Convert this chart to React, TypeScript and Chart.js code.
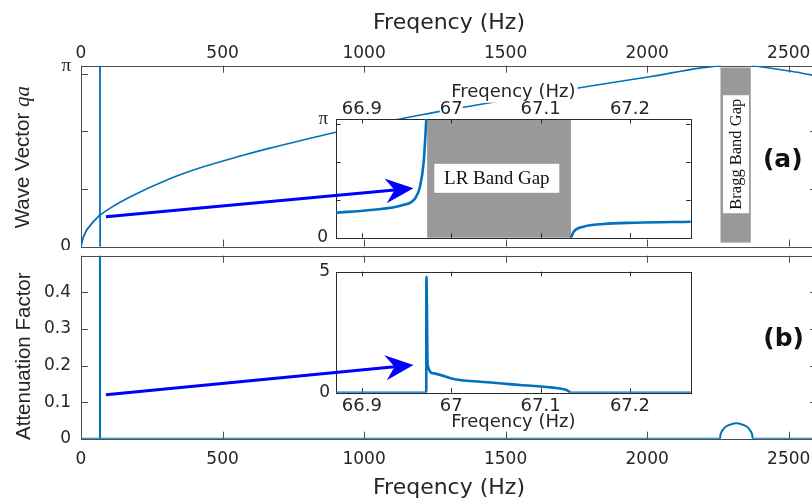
import React, { useEffect, useRef } from 'react';
import { Chart, registerables } from 'chart.js';

Chart.register(...registerables);

const PI = Math.PI;

// ---- Panel (a): wave vector qa (rad) vs frequency (Hz)
const qaFreqLow = [0, 8, 20, 43, 66.9, 66.97];
const qaLow = [0, 0.16, 0.29, 0.43, 0.55, PI];
const qaFreqRise = [67.13, 67.2, 67.27, 68];
const qaRise = [0, 0.3, 0.42, 0.55];
const qaFreqMid = [68, 102, 161, 220, 279, 338, 432, 550, 667, 785, 885, 1204, 1363, 1515, 1762, 2009, 2186, 2259];
const qaMid = [0.55, 0.665, 0.83, 0.975, 1.105, 1.225, 1.385, 1.555, 1.71, 1.85, 1.97, 2.29, 2.43, 2.56, 2.76, 2.95, 3.1, PI];
const qaFreqHigh = [2372, 2420, 2479, 2540, 2600];
const qaHigh = [PI, 3.11, 3.067, 3.02, 2.96];

// ---- Panel (b): attenuation factor vs frequency (Hz)
const attFreq = [0, 66.97, 66.972, 66.974, 66.98, 67.0, 67.05, 67.1, 67.13, 67.134, 2257, 2259, 2263, 2270, 2280, 2295, 2315, 2335, 2350, 2360, 2367, 2371, 2373, 2600];
const att = [0, 0, 4.79, 1.14, 0.8, 0.6, 0.4, 0.25, 0.12, 0, 0, 0.011, 0.019, 0.027, 0.034, 0.039, 0.042, 0.039, 0.034, 0.027, 0.019, 0.011, 0, 0];

// ---- Inset (a): zoom on the local-resonance gap
const lrFreqLow = [66.871, 66.909, 66.946, 66.9595, 66.965, 66.969, 66.971, 66.972];
const lrQaLow = [0.662, 0.733, 0.865, 1.04, 1.35, 1.97, 2.67, PI];
const lrFreqHigh = [67.134, 67.137, 67.148, 67.17, 67.207, 67.268];
const lrQaHigh = [0, 0.159, 0.291, 0.363, 0.397, 0.423];

// ---- Inset (b)
const lrAttFreq = [66.871, 66.972, 66.9722, 66.9736, 66.98, 67.0025, 67.04, 67.077, 67.114, 67.129, 67.134, 67.268];
const lrAtt = [0, 0, 4.79, 1.14, 0.8, 0.57, 0.43, 0.32, 0.21, 0.11, 0, 0];

// ---- ticks / ranges / annotations
const freqTicks = [0, 500, 1000, 1500, 2000, 2500];
const qaTicks = [0, 1, 2, 3, PI];
const attTicks = [0, 0.1, 0.2, 0.3, 0.4];
const insetFreqTicks = [66.9, 67, 67.1, 67.2];
const insetAttTicks = [0, 5];
const braggGap = [2259, 2366];
const braggGapQa = [0.07, 3.11];
const lrGap = [66.973, 67.134];
const braggLabelAt = [2314, 1.604];
const lrLabelAt = [67.051, 1.572];
const panelALabelAt = [2479, 1.487];
const panelBLabelAt = [2482, 0.27];
const arrowTailA = [88, 0.52];
const arrowHeadA = [66.9577, 1.307];
const arrowTailB = [88, 0.12];
const arrowHeadB = [66.9577, 1.145];

const BLUE = '#0072BD';
const INK = '#262626';
const AXIS_MAIN = '#4d4d4d';
const AXIS_INSET = '#2a2a2a';
const SANS = '"DejaVu Sans", sans-serif';
const ARIAL = '"Liberation Sans", Arial, sans-serif';
const SERIF = '"Liberation Serif", "Times New Roman", serif';

const W = 840;
const HA = 250;
const HB = 260;

function pts(xs: number[], ys: number[]) {
  return xs.map((x, i) => ({ x, y: ys[i] }));
}

function lineDs(xs: number[], ys: number[], width: number, smooth = false): any {
  return {
    data: pts(xs, ys),
    borderColor: BLUE,
    borderWidth: width,
    pointRadius: 0,
    fill: false,
    tension: 0,
    cubicInterpolationMode: smooth ? 'monotone' : 'default',
    borderJoinStyle: 'round',
    borderCapStyle: 'round',
  };
}

function fixedTicks(values: number[]) {
  return (s: any) => {
    s.ticks = values.map((v) => ({ value: v }));
  };
}

// force an exact axis box size and drop the label-overflow padding Chart.js adds
function fixSize(prop: 'width' | 'height', size: number) {
  return (s: any) => {
    s[prop] = size;
    s.paddingTop = 0;
    s.paddingBottom = 0;
    s.paddingLeft = 0;
    s.paddingRight = 0;
  };
}

function drawFrame(chart: any, color: string, len: number, xTicks: number[], yTicks: number[]) {
  const { ctx, chartArea: a, scales } = chart;
  const xs = scales.x;
  const ys = scales.y;
  ctx.save();
  ctx.strokeStyle = color;
  ctx.lineWidth = 1;
  ctx.beginPath();
  for (const v of xTicks) {
    const p = Math.round(xs.getPixelForValue(v)) + 0.5;
    ctx.moveTo(p, a.bottom);
    ctx.lineTo(p, a.bottom - len);
    ctx.moveTo(p, a.top);
    ctx.lineTo(p, a.top + len);
  }
  for (const v of yTicks) {
    const p = Math.round(ys.getPixelForValue(v)) + 0.5;
    ctx.moveTo(a.left, p);
    ctx.lineTo(a.left + len, p);
    ctx.moveTo(a.right, p);
    ctx.lineTo(a.right - len, p);
  }
  ctx.stroke();
  ctx.strokeRect(Math.round(a.left) + 0.5, Math.round(a.top) + 0.5, Math.round(a.right - a.left), Math.round(a.bottom - a.top));
  ctx.restore();
}

function boxedText(ctx: any, text: string, cx: number, cy: number, w: number, h: number, font: string, rotate: boolean) {
  ctx.save();
  ctx.translate(cx, cy);
  if (rotate) ctx.rotate(-PI / 2);
  ctx.fillStyle = '#fff';
  ctx.fillRect(-w / 2, -h / 2, w, h);
  ctx.fillStyle = '#111';
  ctx.font = font;
  ctx.textAlign = 'center';
  ctx.textBaseline = 'middle';
  ctx.fillText(text, 0, 1);
  ctx.restore();
}

function yTitle(ctx: any, parts: [string, string][], baseX: number, cy: number) {
  ctx.save();
  ctx.translate(baseX, cy);
  ctx.rotate(-PI / 2);
  ctx.fillStyle = INK;
  ctx.textBaseline = 'alphabetic';
  ctx.textAlign = 'left';
  let total = 0;
  const widths: number[] = [];
  for (const [t, f] of parts) {
    ctx.font = f;
    const w = ctx.measureText(t).width;
    widths.push(w);
    total += w;
  }
  let x = -total / 2;
  parts.forEach(([t, f], i) => {
    ctx.font = f;
    ctx.fillText(t, x, 0);
    x += widths[i];
  });
  ctx.restore();
}

function arrow(ctx: any, x0: number, y0: number, x1: number, y1: number) {
  const dx = x1 - x0;
  const dy = y1 - y0;
  const len = Math.hypot(dx, dy);
  const ux = dx / len;
  const uy = dy / len;
  const nx = -uy;
  const ny = ux;
  const L = 28;
  const hw = 12.5;
  const notch = 19;
  const bx = x1 - ux * L;
  const by = y1 - uy * L;
  const mx = x1 - ux * notch;
  const my = y1 - uy * notch;
  ctx.save();
  ctx.strokeStyle = '#0000FF';
  ctx.fillStyle = '#0000FF';
  ctx.lineWidth = 3;
  ctx.beginPath();
  ctx.moveTo(x0, y0);
  ctx.lineTo(mx, my);
  ctx.stroke();
  ctx.beginPath();
  ctx.moveTo(x1, y1);
  ctx.lineTo(bx + nx * hw, by + ny * hw);
  ctx.lineTo(mx, my);
  ctx.lineTo(bx - nx * hw, by - ny * hw);
  ctx.closePath();
  ctx.fill();
  ctx.restore();
}

const isPi = (v: number) => Math.abs(v - PI) < 1e-9;

function piFont(size: number) {
  return (c: any) => (c.tick && isPi(c.tick.value) ? { family: SERIF, size: size + 2 } : { family: SANS, size });
}

const noGrid = { display: false, drawTicks: false };
const noBorder = { display: false };

export default function App() {
  const aRef = useRef<HTMLCanvasElement>(null);
  const aiRef = useRef<HTMLCanvasElement>(null);
  const bRef = useRef<HTMLCanvasElement>(null);
  const biRef = useRef<HTMLCanvasElement>(null);

  useEffect(() => {
    const charts: Chart[] = [];

    // ---------- main (a)
    const mainA: any = new Chart(aRef.current as HTMLCanvasElement, {
      type: 'line',
      data: {
        datasets: [
          lineDs(qaFreqLow, qaLow, 1.8),
          lineDs(qaFreqRise, qaRise, 1.8),
          lineDs(qaFreqMid, qaMid, 1.6, true),
          lineDs(qaFreqHigh, qaHigh, 1.6, true),
        ],
      },
      options: {
        responsive: false,
        animation: false,
        events: [],
        layout: { padding: { left: 0, top: 0, right: W - 817, bottom: HA - 246.6 } },
        plugins: { legend: { display: false }, tooltip: { enabled: false } },
        scales: {
          x: {
            type: 'linear',
            position: 'top',
            min: 0,
            max: 2600,
            afterBuildTicks: fixedTicks(freqTicks),
            afterFit: fixSize('height', 65.7),
            grid: noGrid,
            border: noBorder,
            ticks: { padding: 2, color: INK, font: { family: SANS, size: 17 }, autoSkip: false, maxRotation: 0, callback: (v: any) => String(v) },
            title: { display: true, text: 'Freqency (Hz)', color: INK, font: { family: SANS, size: 22 }, padding: { top: 9.8, bottom: 0 } },
          },
          y: {
            type: 'linear',
            min: 0,
            max: PI,
            afterBuildTicks: fixedTicks(qaTicks),
            afterFit: fixSize('width', 81),
            grid: noGrid,
            border: noBorder,
            ticks: { padding: 10, color: INK, font: piFont(17), autoSkip: false, callback: (v: any) => (v === 0 ? '0' : isPi(v) ? 'π' : '') },
          },
        },
      } as any,
      plugins: [
        {
          id: 'mainAExtras',
          beforeDatasetsDraw(chart: any) {
            const { ctx, scales } = chart;
            const x0 = scales.x.getPixelForValue(braggGap[0]);
            const x1 = scales.x.getPixelForValue(braggGap[1]);
            const y0 = scales.y.getPixelForValue(braggGapQa[1]);
            const y1 = scales.y.getPixelForValue(braggGapQa[0]);
            ctx.save();
            ctx.fillStyle = '#999999';
            ctx.fillRect(x0, y0, x1 - x0, y1 - y0);
            ctx.restore();
            boxedText(
              ctx,
              'Bragg Band Gap',
              scales.x.getPixelForValue(braggLabelAt[0]),
              scales.y.getPixelForValue(braggLabelAt[1]),
              118,
              26,
              `16.5px ${SERIF}`,
              true
            );
            drawFrame(chart, AXIS_MAIN, 7, freqTicks, qaTicks);
          },
          afterDraw(chart: any) {
            const { ctx, scales, chartArea: a } = chart;
            ctx.save();
            ctx.fillStyle = '#111';
            ctx.font = `bold 25px ${SANS}`;
            ctx.textAlign = 'center';
            ctx.textBaseline = 'middle';
            ctx.fillText('(a)', scales.x.getPixelForValue(panelALabelAt[0]), scales.y.getPixelForValue(panelALabelAt[1]));
            ctx.restore();
            yTitle(
              ctx,
              [
                ['Wave Vector ', `20.5px ${ARIAL}`],
                ['qa', `italic 21px ${SERIF}`],
              ],
              29,
              (a.top + a.bottom) / 2 + 1
            );
          },
        } as any,
      ],
    } as any);
    charts.push(mainA);

    // ---------- inset (a)
    const insetA: any = new Chart(aiRef.current as HTMLCanvasElement, {
      type: 'line',
      data: {
        datasets: [lineDs(lrFreqLow, lrQaLow, 2.6, true), lineDs(lrFreqHigh, lrQaHigh, 2.6, true)],
      },
      options: {
        responsive: false,
        animation: false,
        events: [],
        layout: { padding: { left: 0, top: 0, right: W - 690.7, bottom: HA - 237.7 } },
        plugins: { legend: { display: false }, tooltip: { enabled: false } },
        scales: {
          x: {
            type: 'linear',
            position: 'top',
            min: 66.871,
            max: 67.268,
            afterBuildTicks: fixedTicks(insetFreqTicks),
            afterFit: fixSize('height', 119),
            grid: noGrid,
            border: noBorder,
            ticks: {
              padding: 0.3,
              color: INK,
              font: { family: SANS, size: 18, lineHeight: 1 },
              autoSkip: false,
              maxRotation: 0,
              showLabelBackdrop: true,
              backdropColor: '#fff',
              backdropPadding: 0,
              callback: (v: any) => String(v),
            },
            title: { display: true, text: 'Freqency (Hz)', color: INK, font: { family: SANS, size: 18 }, padding: { top: 81.9, bottom: 0 } },
          },
          y: {
            type: 'linear',
            min: 0,
            max: PI,
            afterBuildTicks: fixedTicks(qaTicks),
            afterFit: fixSize('width', 336),
            grid: noGrid,
            border: noBorder,
            ticks: { padding: 8, color: INK, font: piFont(17), autoSkip: false, callback: (v: any) => (v === 0 ? '0' : isPi(v) ? 'π' : '') },
          },
        },
      } as any,
      plugins: [
        {
          id: 'insetAExtras',
          beforeDraw(chart: any) {
            const { ctx, chartArea: a, scales } = chart;
            ctx.save();
            ctx.fillStyle = '#fff';
            ctx.fillRect(a.left, a.top, a.right - a.left, a.bottom - a.top);
            ctx.font = `18px ${SANS}`;
            const tw = ctx.measureText('Freqency (Hz)').width;
            const cy = scales.x.top + 10.8 + 81.9;
            ctx.fillRect((a.left + a.right) / 2 - tw / 2 - 2, cy - 10, tw + 4, 20);
            ctx.restore();
          },
          beforeDatasetsDraw(chart: any) {
            const { ctx, chartArea: a, scales } = chart;
            const x0 = scales.x.getPixelForValue(lrGap[0]);
            const x1 = scales.x.getPixelForValue(lrGap[1]);
            ctx.save();
            ctx.fillStyle = '#999999';
            ctx.fillRect(x0, a.top, x1 - x0, a.bottom - a.top);
            ctx.restore();
            boxedText(
              ctx,
              'LR Band Gap',
              scales.x.getPixelForValue(lrLabelAt[0]),
              scales.y.getPixelForValue(lrLabelAt[1]),
              125,
              29,
              `19px ${SERIF}`,
              false
            );
            drawFrame(chart, AXIS_INSET, 4.5, insetFreqTicks, qaTicks);
          },
          afterDraw(chart: any) {
            const s = chart.scales;
            const m = mainA.scales;
            arrow(
              chart.ctx,
              m.x.getPixelForValue(arrowTailA[0]),
              m.y.getPixelForValue(arrowTailA[1]),
              s.x.getPixelForValue(arrowHeadA[0]),
              s.y.getPixelForValue(arrowHeadA[1])
            );
          },
        } as any,
      ],
    } as any);
    charts.push(insetA);

    // ---------- main (b)
    const mainB: any = new Chart(bRef.current as HTMLCanvasElement, {
      type: 'line',
      data: { datasets: [lineDs(attFreq, att, 2, true)] },
      options: {
        responsive: false,
        animation: false,
        events: [],
        layout: { padding: { left: 0, top: 5.7, right: W - 817, bottom: HB - 188.7 - 70 } },
        plugins: { legend: { display: false }, tooltip: { enabled: false } },
        scales: {
          x: {
            type: 'linear',
            position: 'bottom',
            min: 0,
            max: 2600,
            afterBuildTicks: fixedTicks(freqTicks),
            afterFit: fixSize('height', 70),
            grid: noGrid,
            border: noBorder,
            ticks: { padding: 11, color: INK, font: { family: SANS, size: 17 }, autoSkip: false, maxRotation: 0, callback: (v: any) => String(v) },
            title: { display: true, text: 'Freqency (Hz)', color: INK, font: { family: SANS, size: 22 }, padding: { top: 0, bottom: 6.8 } },
          },
          y: {
            type: 'linear',
            min: 0,
            max: 0.5,
            afterBuildTicks: fixedTicks(attTicks),
            afterFit: fixSize('width', 81),
            grid: noGrid,
            border: noBorder,
            ticks: { padding: 10, color: INK, font: { family: SANS, size: 17 }, autoSkip: false, callback: (v: any) => (v === 0 ? '0' : Number(v).toFixed(1)) },
          },
        },
      } as any,
      plugins: [
        {
          id: 'mainBExtras',
          beforeDatasetsDraw(chart: any) {
            drawFrame(chart, AXIS_MAIN, 7, freqTicks, attTicks);
          },
          afterDraw(chart: any) {
            const { ctx, scales, chartArea: a } = chart;
            ctx.save();
            ctx.fillStyle = '#111';
            ctx.font = `bold 25px ${SANS}`;
            ctx.textAlign = 'center';
            ctx.textBaseline = 'middle';
            ctx.fillText('(b)', scales.x.getPixelForValue(panelBLabelAt[0]), scales.y.getPixelForValue(panelBLabelAt[1]));
            ctx.restore();
            yTitle(ctx, [['Attenuation Factor', `20.5px ${ARIAL}`]], 30, (a.top + a.bottom) / 2 + 9);
          },
        } as any,
      ],
    } as any);
    charts.push(mainB);

    // ---------- inset (b)
    const insetB: any = new Chart(biRef.current as HTMLCanvasElement, {
      type: 'line',
      data: { datasets: [lineDs(lrAttFreq, lrAtt, 2.6, true)] },
      options: {
        responsive: false,
        animation: false,
        events: [],
        layout: { padding: { left: 0, top: 21.7, right: W - 690.7, bottom: HB - 142.7 - 40 } },
        plugins: { legend: { display: false }, tooltip: { enabled: false } },
        scales: {
          x: {
            type: 'linear',
            position: 'bottom',
            min: 66.871,
            max: 67.268,
            afterBuildTicks: fixedTicks(insetFreqTicks),
            afterFit: fixSize('height', 40),
            grid: noGrid,
            border: noBorder,
            ticks: {
              padding: 3.2,
              color: INK,
              font: { family: SANS, size: 18 },
              autoSkip: false,
              maxRotation: 0,
              callback: (v: any) => String(v),
            },
            title: { display: true, text: 'Freqency (Hz)', color: INK, font: { family: SANS, size: 18 }, padding: { top: 0, bottom: 0 } },
          },
          y: {
            type: 'linear',
            min: 0,
            max: 5,
            afterBuildTicks: fixedTicks(insetAttTicks),
            afterFit: fixSize('width', 336),
            grid: noGrid,
            border: noBorder,
            ticks: { padding: 6, color: INK, font: { family: SANS, size: 17 }, autoSkip: false, callback: (v: any) => String(v) },
          },
        },
      } as any,
      plugins: [
        {
          id: 'insetBExtras',
          beforeDraw(chart: any) {
            const { ctx, chartArea: a } = chart;
            ctx.save();
            ctx.fillStyle = '#fff';
            ctx.fillRect(a.left, a.top, a.right - a.left, a.bottom - a.top);
            ctx.restore();
          },
          beforeDatasetsDraw(chart: any) {
            drawFrame(chart, AXIS_INSET, 4.5, insetFreqTicks, insetAttTicks);
          },
          afterDraw(chart: any) {
            const s = chart.scales;
            const m = mainB.scales;
            arrow(
              chart.ctx,
              m.x.getPixelForValue(arrowTailB[0]),
              m.y.getPixelForValue(arrowTailB[1]),
              s.x.getPixelForValue(arrowHeadB[0]),
              s.y.getPixelForValue(arrowHeadB[1])
            );
          },
        } as any,
      ],
    } as any);
    charts.push(insetB);

    return () => {
      charts.forEach((c) => c.destroy());
    };
  }, []);

  const cs = (top: number, h: number): React.CSSProperties => ({
    position: 'absolute',
    left: 0,
    top,
    width: W,
    height: h,
  });

  return (
    <div style={{ position: 'fixed', left: 0, top: 0, width: 812, height: 499, overflow: 'hidden', background: '#fff' }}>
      <canvas ref={aRef} width={W} height={HA} style={cs(0, HA)} />
      <canvas ref={aiRef} width={W} height={HA} style={cs(0, HA)} />
      <canvas ref={bRef} width={W} height={HB} style={cs(250, HB)} />
      <canvas ref={biRef} width={W} height={HB} style={cs(250, HB)} />
    </div>
  );
}
